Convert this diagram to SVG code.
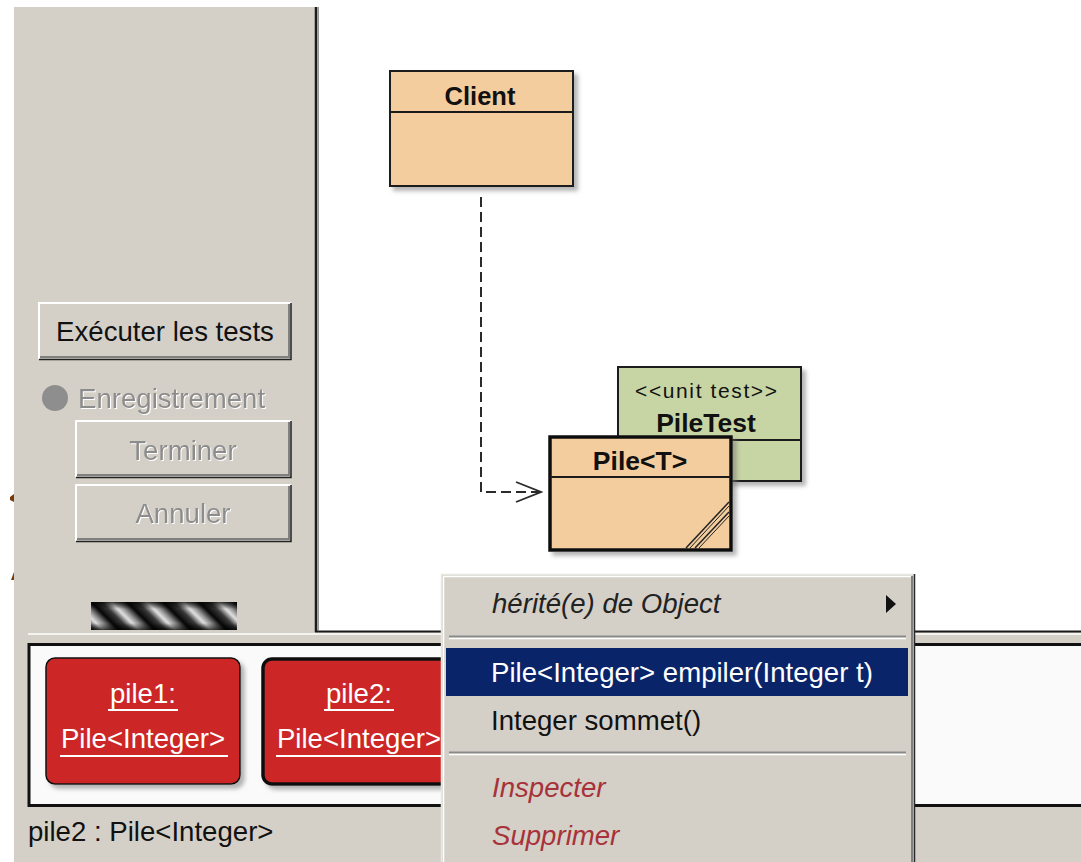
<svg xmlns="http://www.w3.org/2000/svg" width="1081" height="862" viewBox="0 0 1081 862">
<style>
.ui{font-family:"Liberation Sans",Arial,sans-serif;font-size:27.6px;fill:#111}
.b{font-weight:bold}
.dis{fill:#8c8c8c;filter:url(#emb)}
.it{font-style:italic}
.red{fill:#a8323a}
.wt{fill:#ffffff}
.cls{stroke:#1a1a1a;stroke-width:2}
.obj{fill:#cc2626}
.ul{stroke:#ffffff;stroke-width:2}
</style>
<defs>
<filter id="emb" x="-5%" y="-5%" width="110%" height="120%">
<feDropShadow dx="1" dy="1" stdDeviation="0" flood-color="#ffffff" flood-opacity="1"/>
</filter>
<filter id="sh" x="-10%" y="-10%" width="130%" height="130%">
<feDropShadow dx="4" dy="4" stdDeviation="2" flood-color="#777" flood-opacity="0.55"/>
</filter>
<linearGradient id="sg" x1="0" x2="1" y1="0" y2="0">
<stop offset="0" stop-color="#050505"/>
<stop offset="0.3" stop-color="#3a3a3a"/>
<stop offset="0.55" stop-color="#e2e2e2"/>
<stop offset="0.75" stop-color="#8a8a8a"/>
<stop offset="1" stop-color="#050505"/>
</linearGradient>
<linearGradient id="vg" x1="0" x2="0" y1="0" y2="1">
<stop offset="0" stop-color="#000" stop-opacity="0.75"/>
<stop offset="0.25" stop-color="#000" stop-opacity="0"/>
<stop offset="0.75" stop-color="#000" stop-opacity="0"/>
<stop offset="1" stop-color="#000" stop-opacity="0.75"/>
</linearGradient>
<pattern id="stripe" width="36" height="28" patternUnits="userSpaceOnUse" patternTransform="translate(91,602) skewX(45)">
<rect width="36" height="28" fill="url(#sg)"/>
</pattern>
<marker id="open" markerWidth="28" markerHeight="24" refX="26" refY="12" orient="auto" markerUnits="userSpaceOnUse">
<polyline points="1,2 26,12 1,22" fill="none" stroke="#2a2a2a" stroke-width="1.8"/>
</marker>
</defs>

<!-- background -->
<rect width="1081" height="862" fill="#ffffff"/>
<rect x="14" y="7" width="1067" height="855" fill="#d4d0c8"/>
<rect x="318" y="0" width="763" height="631" fill="#ffffff"/>
<line x1="316" y1="7" x2="316" y2="632" stroke="#1a1a1a" stroke-width="2.5"/>
<line x1="318.5" y1="7" x2="318.5" y2="630" stroke="#9a9a9a" stroke-width="1"/>
<line x1="315" y1="631.5" x2="1081" y2="631.5" stroke="#1a1a1a" stroke-width="2"/>
<line x1="28" y1="634" x2="1081" y2="634" stroke="#f4f3ef" stroke-width="2"/>

<!-- small brown marks at left edge -->
<polygon points="10,497 14,494 14,502 10,500" fill="#7a3a0a"/>
<polygon points="11,580 14,572 14,580" fill="#7a3a0a"/>

<!-- left panel controls -->
<g id="btn-executer">
<rect x="39" y="303" width="252" height="56" fill="#d4d0c8"/>
<polyline points="39,359 39,303 291,303" fill="none" stroke="#ffffff" stroke-width="2"/>
<polyline points="40,357 289,357 289,304" fill="none" stroke="#808080" stroke-width="2"/>
<polyline points="39,359.5 291,359.5 291,303" fill="none" stroke="#202020" stroke-width="1.5"/>
<text class="ui" x="165" y="341" text-anchor="middle">Exécuter les tests</text>
</g>
<g id="enregistrement">
<circle cx="55" cy="398" r="13" fill="#8e8e8e"/>
<text class="ui dis" x="78" y="408">Enregistrement</text>
</g>
<g id="btn-terminer">
<rect x="76" y="421" width="215" height="56" fill="#d4d0c8"/>
<polyline points="76,477 76,421 291,421" fill="none" stroke="#ffffff" stroke-width="2"/>
<polyline points="77,475 289,475 289,422" fill="none" stroke="#808080" stroke-width="2"/>
<polyline points="76,477.5 291,477.5 291,421" fill="none" stroke="#202020" stroke-width="1.5"/>
<text class="ui dis" x="183" y="460" text-anchor="middle">Terminer</text>
</g>
<g id="btn-annuler">
<rect x="76" y="485" width="215" height="56" fill="#d4d0c8"/>
<polyline points="76,541 76,485 291,485" fill="none" stroke="#ffffff" stroke-width="2"/>
<polyline points="77,539 289,539 289,486" fill="none" stroke="#808080" stroke-width="2"/>
<polyline points="76,541.5 291,541.5 291,485" fill="none" stroke="#202020" stroke-width="1.5"/>
<text class="ui dis" x="183" y="523" text-anchor="middle">Annuler</text>
</g>
<g id="progress">
<rect x="91" y="602" width="146" height="28" fill="url(#stripe)"/>
<rect x="91" y="602" width="146" height="28" fill="url(#vg)"/>
</g>

<!-- connectors -->
<g id="connectors">
<path d="M481,197 V492 H541" fill="none" stroke="#2a2a2a" stroke-width="2" stroke-dasharray="10,5" marker-end="url(#open)"/>
</g>

<!-- classes -->
<g id="client">
<rect x="390" y="71" width="183" height="115" fill="#f4cd9e" class="cls" filter="url(#sh)"/>
<line x1="390" y1="112" x2="573" y2="112" class="cls"/>
<text class="ui b" x="480" y="105" text-anchor="middle" style="font-size:25.5px">Client</text>
</g>
<g id="piletest">
<rect x="618" y="367" width="183" height="114" fill="#c7d4a4" class="cls" filter="url(#sh)"/>
<line x1="618" y1="440" x2="801" y2="440" class="cls"/>
<text class="ui" x="706" y="398" text-anchor="middle" style="font-size:21px" textLength="142" lengthAdjust="spacing">&lt;&lt;unit test&gt;&gt;</text>
<text class="ui b" x="706" y="432" text-anchor="middle" style="font-size:26.5px">PileTest</text>
</g>
<g id="pile">
<rect x="550" y="437" width="181" height="113" fill="#f4cd9e" stroke="#111" stroke-width="3.5" filter="url(#sh)"/>
<line x1="550" y1="477" x2="731" y2="477" class="cls"/>
<text class="ui b" x="640" y="470" text-anchor="middle" style="font-size:26.5px">Pile&lt;T&gt;</text>
<line x1="729" y1="502" x2="686" y2="548" stroke="#222" stroke-width="1.5"/>
<line x1="729" y1="506" x2="690" y2="548" stroke="#222" stroke-width="1"/>
<line x1="729" y1="512" x2="695" y2="548" stroke="#222" stroke-width="1.5"/>
<line x1="729" y1="516" x2="699" y2="548" stroke="#222" stroke-width="1"/>
</g>

<!-- object bench -->
<g id="bench">
<rect x="29" y="644.5" width="1060" height="161" fill="#fafafa" stroke="#111" stroke-width="3"/>
</g>
<g id="pile1">
<rect x="46" y="658" width="194" height="126" rx="9" class="obj" stroke="#111" stroke-width="1.5" filter="url(#sh)"/>
<text class="ui wt" x="143" y="703" text-anchor="middle">pile1:</text>
<line x1="108" y1="710" x2="178" y2="710" class="ul"/>
<text class="ui wt" x="143" y="748" text-anchor="middle">Pile&lt;Integer&gt;</text>
<line x1="60" y1="756" x2="228" y2="756" class="ul"/>
</g>
<g id="pile2">
<rect x="263" y="659" width="194" height="125" rx="9" class="obj" stroke="#111" stroke-width="3.5" filter="url(#sh)"/>
<text class="ui wt" x="359" y="703" text-anchor="middle">pile2:</text>
<line x1="324" y1="710" x2="394" y2="710" class="ul"/>
<text class="ui wt" x="359" y="748" text-anchor="middle">Pile&lt;Integer&gt;</text>
<line x1="276" y1="756" x2="444" y2="756" class="ul"/>
</g>

<!-- status -->
<text class="ui" x="28" y="841">pile2 : Pile&lt;Integer&gt;</text>

<!-- popup menu -->
<g id="menu">
<rect x="441" y="574" width="474" height="300" fill="#d4d0c8"/>
<polyline points="441.5,862 441.5,574.5 914,574.5" fill="none" stroke="#e8e6e1" stroke-width="1.5"/>
<polyline points="443.5,862 443.5,576.5 912,576.5" fill="none" stroke="#ffffff" stroke-width="1.5"/>
<line x1="912" y1="576" x2="912" y2="862" stroke="#808080" stroke-width="2"/>
<line x1="914.5" y1="574" x2="914.5" y2="862" stroke="#2a2a2a" stroke-width="1.5"/>
<text class="ui it" x="492" y="613" style="fill:#222">hérité(e) de Object</text>
<polygon points="886,595 896,604 886,613" fill="#111"/>
<line x1="449" y1="636.5" x2="906" y2="636.5" stroke="#8a8a8a" stroke-width="2"/>
<line x1="449" y1="638.5" x2="906" y2="638.5" stroke="#ffffff" stroke-width="1.5"/>
<rect x="446" y="648" width="462" height="48" fill="#0a246a"/>
<text class="ui wt" x="491" y="682">Pile&lt;Integer&gt; empiler(Integer t)</text>
<text class="ui" x="491" y="730">Integer sommet()</text>
<line x1="449" y1="752.5" x2="906" y2="752.5" stroke="#8a8a8a" stroke-width="2"/>
<line x1="449" y1="754.5" x2="906" y2="754.5" stroke="#ffffff" stroke-width="1.5"/>
<text class="ui it red" x="492" y="797">Inspecter</text>
<text class="ui it red" x="492" y="845">Supprimer</text>
</g>
</svg>
